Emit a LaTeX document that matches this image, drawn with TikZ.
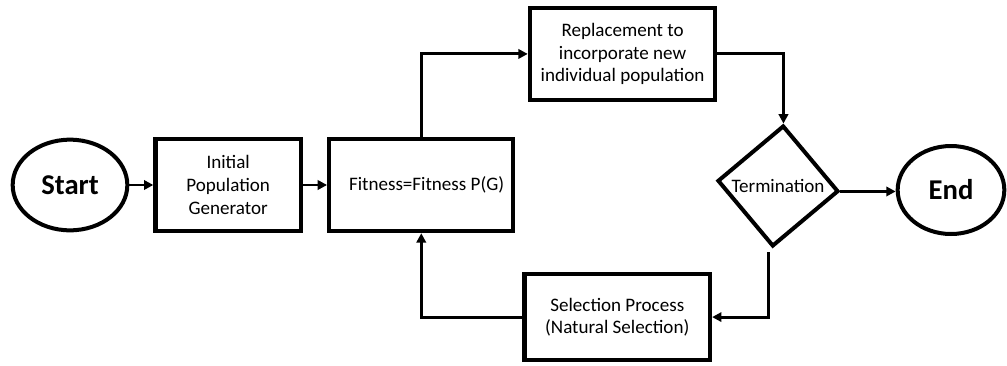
\documentclass[tikz,border=0pt]{standalone}
\usepackage{fontspec}
\setmainfont{Carlito}
\usetikzlibrary{shapes.geometric, arrows.meta, positioning}

\begin{document}
\begin{tikzpicture}[x=0.75pt, y=-0.75pt,
  box/.style={rectangle, draw, line width=3.3pt, minimum width=109pt, minimum height=69pt, align=center, font=\fontsize{14.3}{17}\selectfont},
  term/.style={ellipse, draw, line width=3pt, minimum width=86pt, minimum height=68pt, inner sep=0pt, font=\fontsize{21.5}{25}\selectfont\bfseries},
  decision/.style={diamond, draw, line width=3pt, minimum width=91pt, minimum height=91pt, inner sep=0pt, rotate=-5},
  arr/.style={-{Triangle[length=7pt, width=7pt]}, line width=2.2pt}
]
\useasboundingbox (0,0) rectangle (1007,365);
\node[term] (start) at (70,185) {Start};
\node[box, right=18pt of start] (init) {Initial\\Population\\Generator};
\node[box, minimum width=138pt, right=18pt of init] (fitness) {\hspace{8pt}Fitness=Fitness P(G)};
\node[box, minimum width=139pt, above=26pt of fitness, xshift=151pt] (repl) {Replacement to\\incorporate new\\individual population};
\node[box, minimum width=139pt, minimum height=64.5pt, below=29pt of fitness, xshift=147pt] (sel) {Selection Process\\(Natural Selection)};
\node[decision] (dec) at (778,186) {};
\node[font=\fontsize{14.3}{17}\selectfont] (dectext) at (dec.center) {Termination};
\node[term, minimum width=80pt, minimum height=66pt] (end) at (951,190) {End};
\draw[arr] (start) -- (init);
\draw[arr] (init) -- (fitness);
\draw[arr] (fitness.north) |- (repl.west);
\draw[arr] (repl.east) -| (dec.north);
\draw[arr] (dec.east) -- (dec.east -| end.west);
\draw[arr] ([shift={(-3pt,-3pt)}]dec.south) |- (sel.east);
\draw[arr] (sel.west) -| (fitness.south);
\end{tikzpicture}
\end{document}
